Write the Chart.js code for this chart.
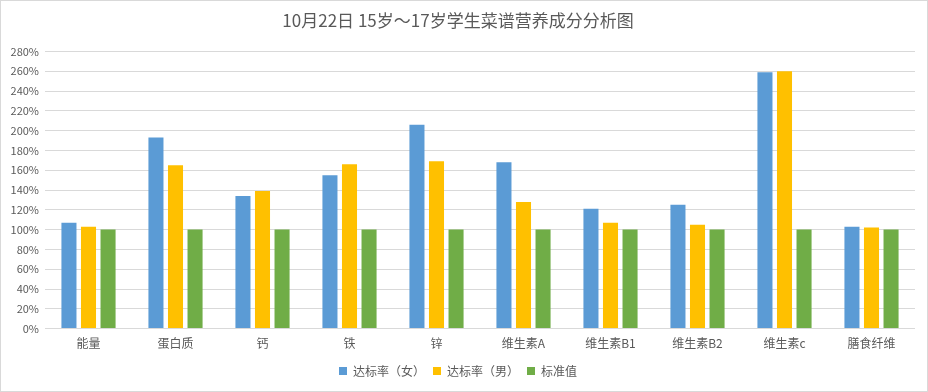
<!DOCTYPE html>
<html lang="zh">
<head>
    <meta charset="UTF-8">
    <title>营养成分分析图</title>
    <script src="https://cdn.jsdelivr.net/npm/chart.js"></script>
    <style>
        body { margin: 0; background: #fff; }
        #wrap { width: 926px; height: 390px; border: 1px solid #d9d9d9; }
    </style>
</head>
<body>
    <div id="wrap"><canvas id="nutriChart" width="926" height="390"></canvas></div>

    <script>
        // 数据
        const categories = ['能量', '蛋白质', '钙', '铁', '锌', '维生素A', '维生素B1', '维生素B2', '维生素c', '膳食纤维'];
        const femaleRate = [107, 193, 134, 155, 206, 168, 121, 125, 259, 103];
        const maleRate = [103, 165, 139, 166, 169, 128, 107, 105, 260, 102];
        const standard = [100, 100, 100, 100, 100, 100, 100, 100, 100, 100];

        const textColor = '#595959';
        const fontFamily = '"Noto Sans CJK SC", "Noto Sans", sans-serif';

        const ctx = document.getElementById('nutriChart').getContext('2d');
        const nutriChart = new Chart(ctx, {
            type: 'bar',
            data: {
                labels: categories,
                datasets: [
                    { label: '达标率（女）', data: femaleRate, backgroundColor: '#5b9bd5' },
                    { label: '达标率（男）', data: maleRate, backgroundColor: '#ffc000' },
                    { label: '标准值', data: standard, backgroundColor: '#70ad47' }
                ]
            },
            options: {
                responsive: false,
                animation: false,
                datasets: {
                    bar: { categoryPercentage: 0.674, barPercentage: 0.77 }
                },
                layout: { padding: { top: 0, left: 0, right: 12, bottom: 4 } },
                plugins: {
                    title: {
                        display: true,
                        text: '10月22日 15岁～17岁学生菜谱营养成分分析图',
                        color: textColor,
                        font: { family: fontFamily, size: 17, weight: 'normal' },
                        padding: { top: 9, bottom: 21 }
                    },
                    legend: {
                        position: 'bottom',
                        labels: {
                            color: textColor,
                            font: { family: fontFamily, size: 12 },
                            boxWidth: 8,
                            boxHeight: 8,
                            padding: 8
                        }
                    },
                    tooltip: { enabled: false }
                },
                scales: {
                    x: {
                        grid: { display: false },
                        border: { display: false },
                        afterFit: function(scale) { scale.height += 6; },
                        ticks: {
                            color: textColor,
                            font: { family: fontFamily, size: 12 },
                            padding: 0
                        }
                    },
                    y: {
                        min: 0,
                        max: 280,
                        grid: { color: '#d9d9d9', drawTicks: false },
                        border: { display: false },
                        afterFit: function(scale) { scale.width = 44; },
                        ticks: {
                            stepSize: 20,
                            padding: 6,
                            color: textColor,
                            font: { family: fontFamily, size: 11 },
                            callback: function(v) { return v + '%'; }
                        }
                    }
                }
            }
        });
    </script>
</body>
</html>
